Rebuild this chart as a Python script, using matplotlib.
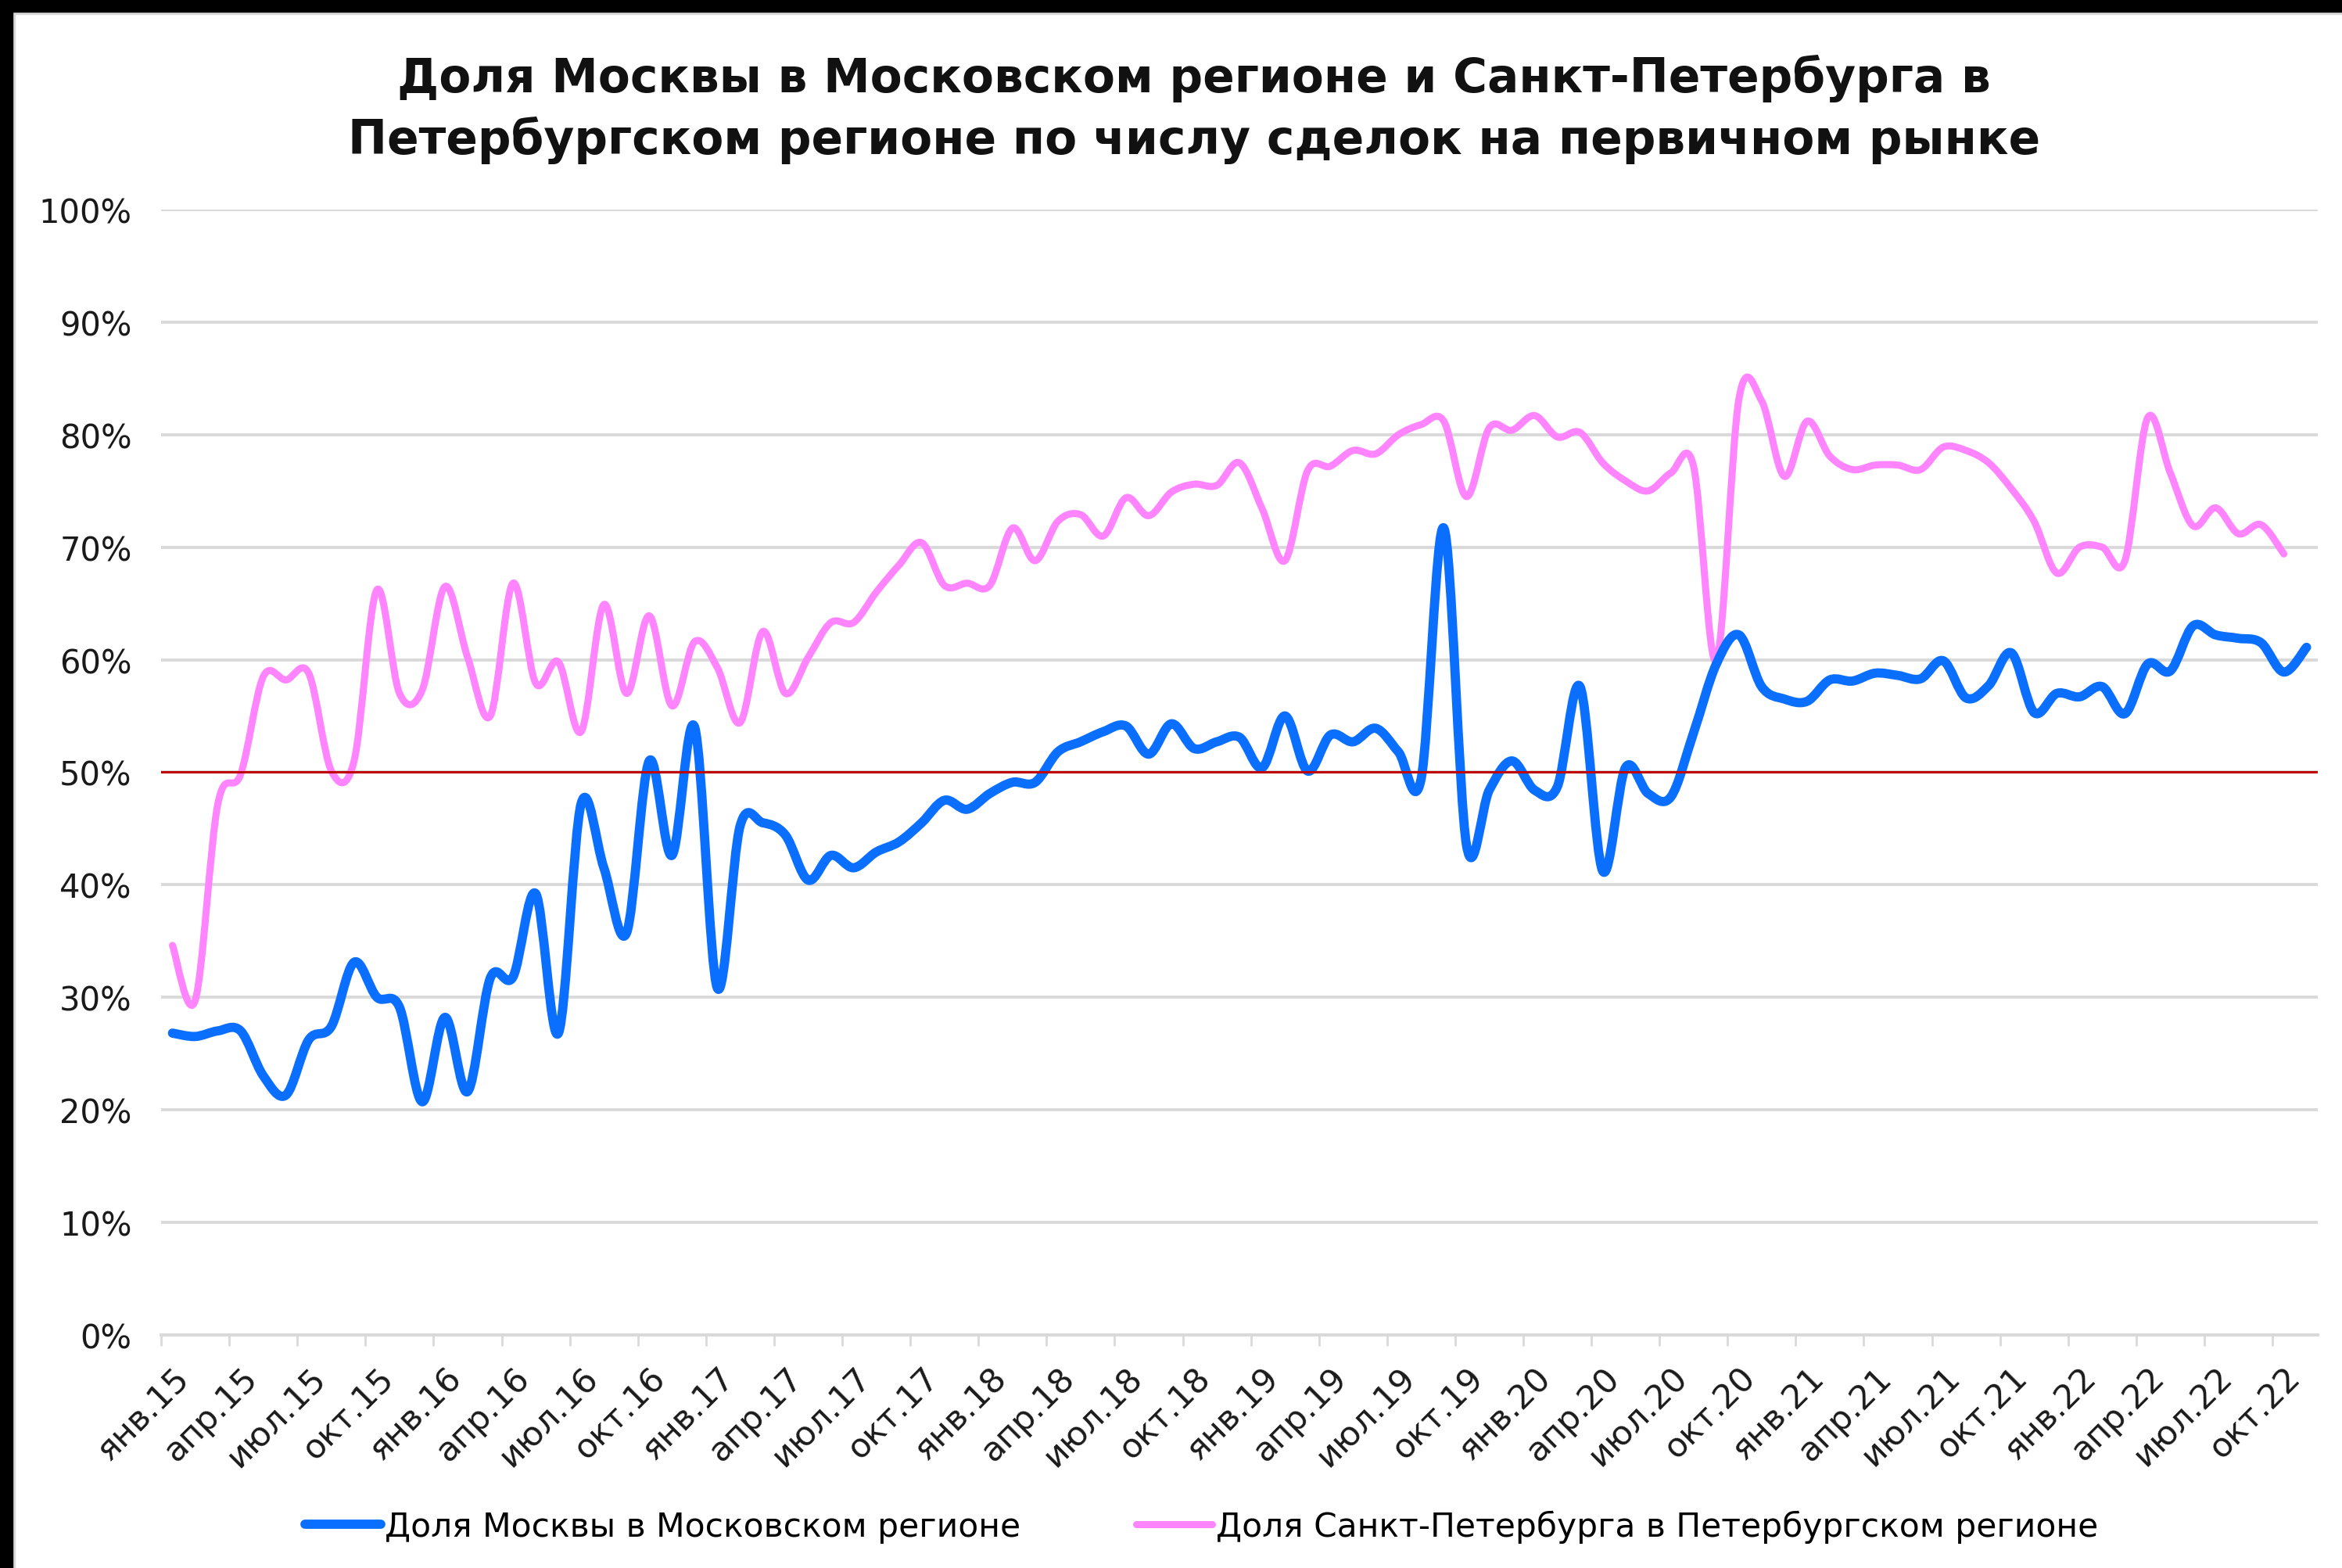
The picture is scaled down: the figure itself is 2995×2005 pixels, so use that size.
import matplotlib
matplotlib.use("Agg")
import matplotlib.pyplot as plt
from matplotlib.path import Path
from matplotlib.patches import PathPatch, Rectangle
from matplotlib.lines import Line2D
from matplotlib.ticker import FixedLocator, PercentFormatter

# Доля Москвы в Московском регионе, %, янв.15 - ноя.22
moscow = [26.8, 26.5, 27.0, 27.0, 23.0, 21.3, 26.2, 27.4, 33.1, 30.0, 29.1, 20.7,
          28.2, 21.6, 31.7, 31.8, 39.2, 26.8, 47.2, 41.5, 35.7, 51.0, 42.6, 54.0,
          30.8, 45.2, 45.5, 44.4, 40.4, 42.6, 41.5, 42.9, 43.8, 45.5, 47.5, 46.7,
          48.1, 49.1, 49.1, 51.8, 52.7, 53.6, 54.1, 51.6, 54.3, 52.1, 52.7, 53.1,
          50.4, 55.0, 50.1, 53.3, 52.7, 53.9, 51.8, 49.4, 71.7, 43.5, 48.4, 51.0,
          48.4, 48.7, 57.6, 41.2, 50.4, 48.1, 47.8, 53.5, 59.6, 62.2, 57.6, 56.5,
          56.3, 58.2, 58.1, 58.8, 58.6, 58.3, 59.9, 56.6, 57.7, 60.6, 55.3, 57.0,
          56.7, 57.6, 55.2, 59.6, 59.0, 63.0, 62.2, 61.9, 61.5, 58.9, 61.1]

# Доля Санкт-Петербурга в Петербургском регионе, %, янв.15 - окт.22
spb = [34.6, 29.7, 47.2, 49.8, 58.5, 58.2, 58.8, 50.1, 51.0, 66.2, 57.0, 57.3,
       66.5, 60.2, 55.0, 66.8, 57.9, 59.8, 53.6, 64.9, 57.0, 63.9, 55.9, 61.6,
       59.3, 54.4, 62.5, 57.0, 60.2, 63.3, 63.3, 66.0, 68.4, 70.4, 66.6, 66.8,
       66.6, 71.7, 68.8, 72.3, 72.9, 71.0, 74.4, 72.8, 74.9, 75.6, 75.5, 77.5,
       73.4, 68.8, 76.8, 77.2, 78.6, 78.3, 80.0, 80.9, 81.2, 74.5, 80.6, 80.4,
       81.7, 79.8, 80.2, 77.5, 75.9, 75.0, 76.6, 77.2, 59.9, 83.2, 83.0, 76.3,
       81.2, 78.1, 76.9, 77.3, 77.3, 76.9, 78.9, 78.6, 77.5, 75.2, 72.3, 67.7,
       70.0, 70.0, 68.8, 81.5, 76.6, 71.9, 73.5, 71.2, 72.0, 69.4]

quarter_labels = ['янв.15', 'апр.15', 'июл.15', 'окт.15', 'янв.16', 'апр.16', 'июл.16', 'окт.16',
                  'янв.17', 'апр.17', 'июл.17', 'окт.17', 'янв.18', 'апр.18', 'июл.18', 'окт.18',
                  'янв.19', 'апр.19', 'июл.19', 'окт.19', 'янв.20', 'апр.20', 'июл.20', 'окт.20',
                  'янв.21', 'апр.21', 'июл.21', 'окт.21', 'янв.22', 'апр.22', 'июл.22', 'окт.22']

threshold = 50

title = ('Доля Москвы в Московском регионе и Санкт-Петербурга в\n'
         'Петербургском регионе по числу сделок на первичном рынке')
name_moscow = 'Доля Москвы в Московском регионе'
name_spb = 'Доля Санкт-Петербурга в Петербургском регионе'

BLUE = '#0A6EFF'
PINK = '#FF84FF'
GRID = '#D9D9D9'

plt.rcParams['font.family'] = ['DejaVu Sans']


# сглаженная линия как в Excel (кривые Безье через точки)
def smooth_path(values):
    pts = [(i, v / 100) for i, v in enumerate(values)]
    verts = [pts[0]]
    codes = [Path.MOVETO]
    n = len(pts)
    for i in range(n - 1):
        p0 = pts[i - 1] if i > 0 else pts[i]
        p1 = pts[i]
        p2 = pts[i + 1]
        p3 = pts[i + 2] if i + 2 < n else pts[i + 1]
        c1 = (p1[0] + (p2[0] - p0[0]) / 6, p1[1] + (p2[1] - p0[1]) / 6)
        c2 = (p2[0] - (p3[0] - p1[0]) / 6, p2[1] - (p3[1] - p1[1]) / 6)
        verts += [c1, c2, p2]
        codes += [Path.CURVE4] * 3
    return Path(verts, codes)


fig = plt.figure(figsize=(29.95, 20.06), dpi=100)
ax = fig.add_axes([0.0688, 0.1488, 0.9209, 0.7170])

ax.set_xlim(-0.5, len(moscow) - 0.5)
ax.set_ylim(0, 1)

ax.add_patch(PathPatch(smooth_path(moscow), facecolor='none', edgecolor=BLUE,
                       lw=8.5, capstyle='round', joinstyle='round', zorder=4))
ax.add_patch(PathPatch(smooth_path(spb), facecolor='none', edgecolor=PINK,
                       lw=6.5, capstyle='round', joinstyle='round', zorder=3))
ax.axhline(threshold / 100, color='#C00000', lw=2.2, zorder=5)

# ось Y
ax.set_yticks([i / 10 for i in range(11)])
ax.yaxis.set_major_formatter(PercentFormatter(1.0, decimals=0))
ax.yaxis.grid(True, color=GRID, lw=2.8)
ax.set_axisbelow(True)
ax.tick_params(axis='y', length=0, pad=27, labelsize=30, labelcolor='#1a1a1a')

# ось X: засечки между месяцами, подписи поквартально
ax.xaxis.set_major_locator(FixedLocator([-0.5 + 3 * k for k in range(len(quarter_labels))]))
ax.xaxis.set_minor_locator(FixedLocator([3 * k for k in range(len(quarter_labels))]))
ax.set_xticklabels([], minor=False)
ax.set_xticklabels(quarter_labels, minor=True, rotation=45, ha='right', va='top',
                   rotation_mode='anchor')
ax.tick_params(axis='x', which='major', length=10, width=2, color=GRID)
ax.tick_params(axis='x', which='minor', length=0, pad=24, labelsize=31, labelcolor='#1a1a1a')

for side in ['left', 'right', 'top']:
    ax.spines[side].set_visible(False)
ax.spines['bottom'].set_color(GRID)
ax.spines['bottom'].set_linewidth(2.8)

fig.text(0.5098, 1 - 140 / 2006, title, ha='center', va='center', fontsize=43,
         fontweight='bold', linespacing=1.38, color='#111111')

handles = [Line2D([], [], color=BLUE, lw=8.5, solid_capstyle='round'),
           Line2D([], [], color=PINK, lw=6.5, solid_capstyle='round')]
fig.legend(handles, [name_moscow, name_spb], loc='center', bbox_to_anchor=(0.513, 1 - 1953 / 2006),
           ncol=2, frameon=False, fontsize=30.5, handlelength=2.3, handletextpad=0.1,
           columnspacing=3.5)

# рамка картинки
fig.add_artist(Rectangle((0, 1 - 16 / 2006), 1, 16 / 2006, transform=fig.transFigure,
                         color='black', zorder=10))
fig.add_artist(Rectangle((0, 0), 16 / 2995, 1, transform=fig.transFigure,
                         color='black', zorder=10))
fig.add_artist(Line2D([16 / 2995, 1], [1 - 18 / 2006, 1 - 18 / 2006], transform=fig.transFigure,
                      color=GRID, lw=2.5, zorder=9))
fig.add_artist(Line2D([18 / 2995, 18 / 2995], [0, 1 - 16 / 2006], transform=fig.transFigure,
                      color=GRID, lw=2.5, zorder=9))

fig.savefig('out.png', dpi=100)
